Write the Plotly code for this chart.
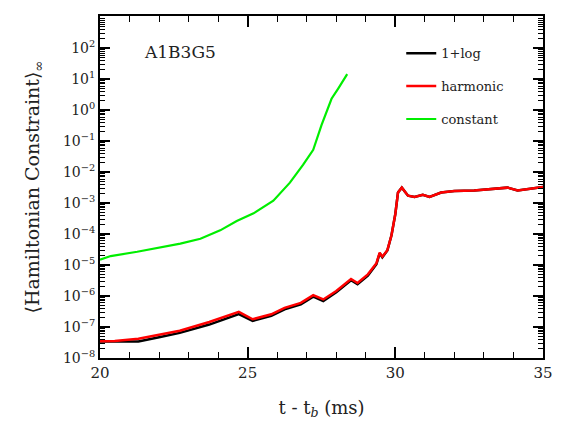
import plotly.graph_objects as go

# time since bounce (ms) and infinity-norm of the Hamiltonian constraint
t_onelog = [20.0, 20.5, 21.3, 22.0, 22.7, 23.7, 24.7, 25.17, 25.8, 26.25, 26.8, 27.22, 27.56,
            28.0, 28.5, 28.72, 29.07, 29.36, 29.47, 29.56, 29.73, 29.87, 30.0, 30.09, 30.22,
            30.43, 30.65, 30.93, 31.16, 31.55, 32.0, 32.67, 33.24, 33.8, 34.14, 34.8, 35.0]
h_onelog = [3.39e-8, 3.39e-8, 3.39e-8, 4.68e-8, 6.46e-8, 1.20e-7, 2.63e-7, 1.58e-7, 2.29e-7,
            3.72e-7, 5.37e-7, 9.55e-7, 6.92e-7, 1.32e-6, 3.24e-6, 2.40e-6, 4.57e-6, 1.07e-5,
            2.40e-5, 1.78e-5, 2.95e-5, 9.12e-5, 4.47e-4, 2.19e-3, 3.16e-3, 1.74e-3, 1.58e-3,
            1.86e-3, 1.58e-3, 2.19e-3, 2.45e-3, 2.57e-3, 2.88e-3, 3.16e-3, 2.57e-3, 3.16e-3, 3.31e-3]

t_harmonic = [20.0, 20.5, 21.3, 22.0, 22.7, 23.7, 24.7, 25.17, 25.8, 26.25, 26.8, 27.22, 27.56,
              28.0, 28.5, 28.72, 29.07, 29.36, 29.47, 29.56, 29.73, 29.87, 30.0, 30.09, 30.22,
              30.43, 30.65, 30.93, 31.16, 31.55, 32.0, 32.67, 33.24, 33.8, 34.14, 34.8, 35.0]
h_harmonic = [3.47e-8, 3.55e-8, 4.17e-8, 5.62e-8, 7.59e-8, 1.45e-7, 3.09e-7, 1.78e-7, 2.57e-7,
              4.17e-7, 6.03e-7, 1.07e-6, 7.76e-7, 1.45e-6, 3.55e-6, 2.63e-6, 5.01e-6, 1.15e-5,
              2.51e-5, 1.86e-5, 3.02e-5, 9.12e-5, 4.47e-4, 2.19e-3, 3.16e-3, 1.74e-3, 1.58e-3,
              1.86e-3, 1.58e-3, 2.19e-3, 2.45e-3, 2.57e-3, 2.88e-3, 3.16e-3, 2.57e-3, 3.16e-3, 3.31e-3]

t_constant = [20.0, 20.36, 21.26, 22.05, 22.72, 23.4, 24.07, 24.63, 25.2, 25.87, 26.43, 26.88,
              27.22, 27.5, 27.84, 28.06, 28.37]
h_constant = [1.48e-5, 1.95e-5, 2.69e-5, 3.72e-5, 4.90e-5, 7.08e-5, 1.32e-4, 2.63e-4, 4.68e-4,
              1.20e-3, 4.57e-3, 1.74e-2, 5.25e-2, 0.331, 2.34, 4.90, 14.5]

x_ticks = [20, 25, 30, 35]
y_exponents = list(range(-8, 3))
y_ticktext = ["10<sup>%s</sup>" % (str(e).replace("-", "\u2212")) for e in y_exponents]

FONT = "DejaVu Serif"
INK = "#222222"

fig = go.Figure()
fig.add_trace(go.Scatter(x=t_onelog, y=h_onelog, mode="lines", name="1+log",
                         line=dict(color="black", width=2.5), legendgroup="a"))
fig.add_trace(go.Scatter(x=t_harmonic, y=h_harmonic, mode="lines", name="harmonic",
                         line=dict(color="#ff0000", width=2.5), legendgroup="b"))
fig.add_trace(go.Scatter(x=t_constant, y=h_constant, mode="lines", name="constant",
                         line=dict(color="#00ee00", width=2.2), legendgroup="c"))

minor_y = [m * 10 ** e for e in range(-9, 4) for m in range(2, 10)]

fig.update_layout(
    width=565, height=427,
    margin=dict(l=100, r=19, t=16, b=64),
    paper_bgcolor="white", plot_bgcolor="white",
    font=dict(family=FONT, color=INK, size=14),
    showlegend=True,
    legend=dict(x=0.68, y=0.935, xanchor="left", yanchor="top",
                font=dict(family=FONT, size=13, color=INK),
                tracegroupgap=13, bgcolor="rgba(0,0,0,0)"),
    xaxis=dict(
        range=[20, 35], tickvals=x_ticks, ticktext=[str(v) for v in x_ticks],
        ticks="inside", ticklen=11, tickwidth=1.5, tickcolor="black",
        showline=True, linecolor="black", linewidth=2, mirror="ticks",
        showgrid=False, zeroline=False,
        tickfont=dict(family=FONT, size=15, color=INK),
        minor=dict(dtick=1, ticks="inside", ticklen=6, tickwidth=1.2, tickcolor="black", showgrid=False),
        title=dict(text="t - t<sub><i>b</i></sub> (ms)", font=dict(family=FONT, size=18, color=INK),
                   standoff=20),
    ),
    yaxis=dict(
        type="log", range=[-8, 3.04],
        tickvals=[10.0 ** e for e in y_exponents], ticktext=y_ticktext,
        ticks="inside", ticklen=10, tickwidth=1.5, tickcolor="black",
        showline=True, linecolor="black", linewidth=2, mirror="ticks",
        showgrid=False, zeroline=False,
        tickfont=dict(family=FONT, size=14, color=INK),
        minor=dict(tickvals=minor_y, ticks="inside", ticklen=5, tickwidth=1.2, tickcolor="black", showgrid=False),
        title=dict(text="\u27e8Hamiltonian Constraint\u27e9<sub>\u221e</sub>",
                   font=dict(family=FONT, size=19, color=INK), standoff=18),
    ),
    annotations=[dict(text="A1B3G5", x=0.095, y=0.93, xref="paper", yref="paper",
                      xanchor="left", yanchor="top", showarrow=False,
                      font=dict(family=FONT, size=17, color=INK))],
)

fig.write_html("out.html")
